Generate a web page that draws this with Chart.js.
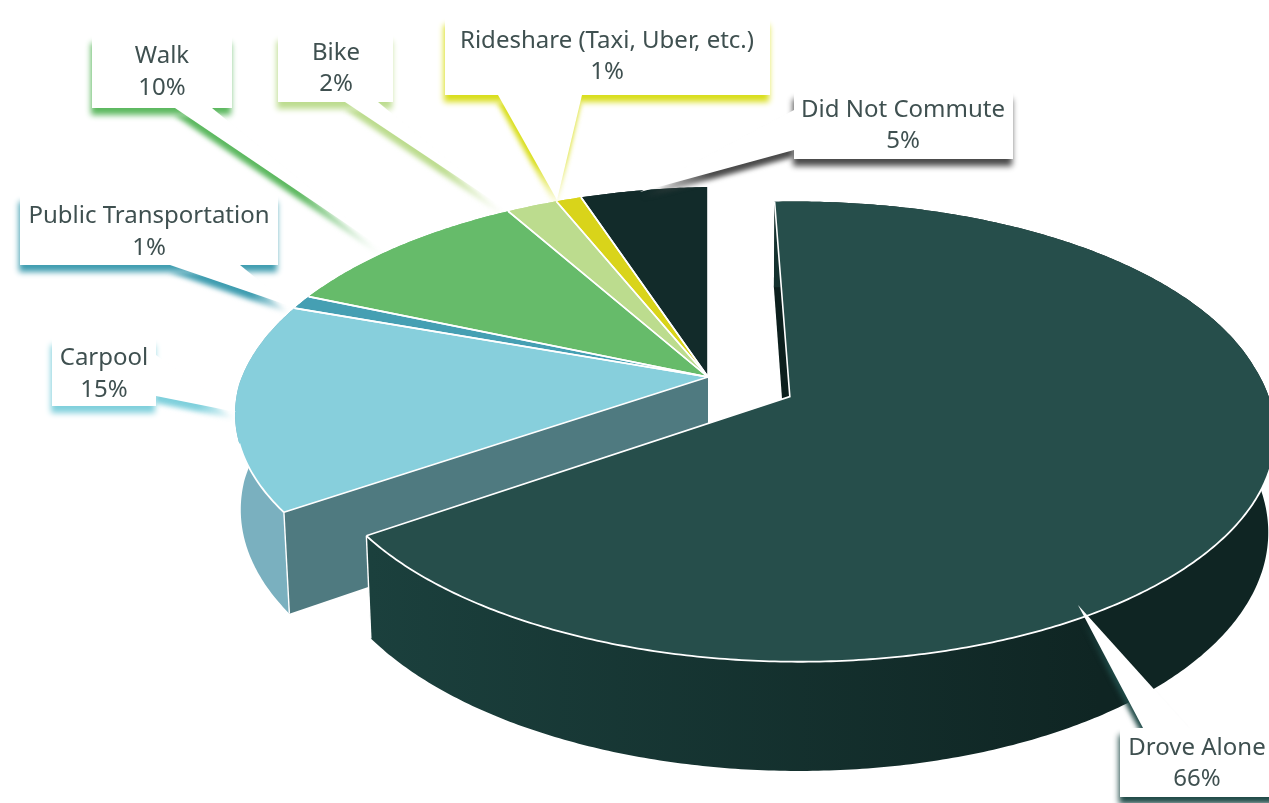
<!DOCTYPE html>
<html>
<head>
<meta charset="utf-8">
<title>Commute Mode</title>
<script src="https://cdn.jsdelivr.net/npm/chart.js@4"></script>
<style>
    html, body { margin: 0; padding: 0; background: #fff; }
    canvas { display: block; }
</style>
</head>
<body>
<canvas id="commuteChart" width="1269" height="803"></canvas>
<script>
const categories = ['Drove Alone', 'Carpool', 'Public Transportation', 'Walk', 'Bike', 'Rideshare (Taxi, Uber, etc.)', 'Did Not Commute'];
const shares = [66, 15, 1, 10, 2, 1, 5];

const topColors = ['#264e4b', '#87cfdc', '#459fb3', '#66bb6a', '#bcdc8e', '#d9d41a', '#122b2a'];
const wallColors = [['#1b403d', '#0f2523'], ['#7ab0bf', '#6fa5b4'], ['#459fb3', '#459fb3'], ['#66bb6a', '#66bb6a'], ['#bcdc8e', '#bcdc8e'], ['#d9d41a', '#d9d41a'], ['#122b2a', '#122b2a']];
const shadowColors = ['#1f4a47', '#7fd0dc', '#3f9db0', '#5cb85f', '#bcdc8e', '#d9de1a', '#4a4a4a'];
const cutWallColor = '#4f7a80';
const textColor = '#3f5050';

// camera used to lay the flat pie on the ground plane
const cam = { x0: 708, y0: 377, f: 469, g: 218.5, k: 0.15, m: 0.012, h: 96, shearX: 10, shearY: -8 };
// the first slice is pulled out of the pie
const pulled = { u: 0.17, v: 0.0948 };

// callout boxes: [x, y, w, h], then the tail as base, base, tip
const callouts = [
    { box: [1120, 728, 160, 69], tail: [[1143, 728], [1189, 728], [1078, 605]], text: [1197, 755, 786] },
    { box: [52, 338, 104, 68], tail: [[156, 355], [156, 396], [236, 412]], text: [104, 365, 397] },
    { box: [20, 195, 258, 70], tail: [[170, 265], [240, 265], [290, 306]], text: [149, 223, 255] },
    { box: [92, 36, 140, 72], tail: [[175, 108], [212, 108], [385, 250]], text: [162, 63, 95] },
    { box: [278, 34, 115, 68], tail: [[345, 102], [378, 102], [510, 212]], text: [336, 60, 91] },
    { box: [445, 18, 325, 77], tail: [[498, 95], [582, 95], [557, 200]], text: [607, 48, 79] },
    { box: [794, 92, 219, 67], tail: [[794, 110], [794, 150], [640, 192]], text: [903, 117, 148] }
];

function project(u, v, depth) {
    const w = 1 - cam.k * v + cam.m * depth;
    const x = cam.f * u + cam.shearX * Math.max(v, 0);
    const y = cam.g * v + cam.shearY * u + cam.h * depth;
    return [cam.x0 + x / w, cam.y0 + y / w];
}

function rimPoint(index, angle, depth) {
    const off = index === 0 ? pulled : { u: 0, v: 0 };
    return project(off.u + Math.cos(angle), off.v + Math.sin(angle), depth);
}

function apexPoint(index, depth) {
    const off = index === 0 ? pulled : { u: 0, v: 0 };
    return project(off.u, off.v, depth);
}

function rimPoints(index, from, to, depth) {
    const steps = Math.max(2, Math.ceil(Math.abs(to - from) / 0.01));
    const pts = [];
    for (let i = 0; i <= steps; i++) {
        pts.push(rimPoint(index, from + (to - from) * i / steps, depth));
    }
    return pts;
}

function tracePoly(ctx, pts) {
    ctx.beginPath();
    pts.forEach((p, i) => i ? ctx.lineTo(p[0], p[1]) : ctx.moveTo(p[0], p[1]));
}

function fillPoly(ctx, pts, fill) {
    tracePoly(ctx, pts);
    ctx.closePath();
    ctx.fillStyle = fill;
    ctx.fill();
}

function strokePoly(ctx, pts, width) {
    tracePoly(ctx, pts);
    ctx.strokeStyle = '#fff';
    ctx.lineWidth = width;
    ctx.stroke();
}

function drawWalls(ctx, index, arc) {
    const top = rimPoints(index, arc.startAngle, arc.endAngle, 0);
    const bottom = rimPoints(index, arc.endAngle, arc.startAngle, 1);
    const grad = ctx.createLinearGradient(370, 0, 1100, 0);
    grad.addColorStop(0, wallColors[index][0]);
    grad.addColorStop(1, wallColors[index][1]);
    fillPoly(ctx, top.concat(bottom), index === 1 ? wallColors[1][0] : grad);
}

function drawCutWall(ctx, index, angle, color) {
    fillPoly(ctx, [apexPoint(index, 0), rimPoint(index, angle, 0), rimPoint(index, angle, 1), apexPoint(index, 1)], color);
}

function drawTop(ctx, index, arc) {
    const pts = [apexPoint(index, 0)].concat(rimPoints(index, arc.startAngle, arc.endAngle, 0));
    fillPoly(ctx, pts, topColors[index]);
}

function drawEdges(ctx, index, arc) {
    strokePoly(ctx, [rimPoint(index, arc.startAngle, 0), apexPoint(index, 0), rimPoint(index, arc.endAngle, 0)], 1.6);
    // white rim only along the part of the edge that has a wall under it
    const apexY = apexPoint(index, 0)[1];
    const rim = rimPoints(index, arc.startAngle, arc.endAngle, 0).filter(p => p[1] - apexY > 65);
    if (rim.length) strokePoly(ctx, rim, 1.8);
}

// vertical white edge where a cut wall meets the round wall
function drawCorner(ctx, index, angle) {
    strokePoly(ctx, [rimPoint(index, angle, 0), rimPoint(index, angle, 1)], 1.4);
}

function drawCallout(ctx, index) {
    const c = callouts[index];
    const [x, y, w, h] = c.box;
    const [a, b, tip] = c.tail;

    // tail shadow fades out on its way to the slice
    ctx.save();
    ctx.filter = 'blur(2.5px)';
    const baseX = (a[0] + b[0]) / 2;
    const baseY = (a[1] + b[1]) / 2;
    const fade = ctx.createLinearGradient(baseX, baseY + 7, tip[0], tip[1] + 7);
    fade.addColorStop(0, shadowColors[index]);
    fade.addColorStop(0.55, shadowColors[index]);
    fade.addColorStop(1, shadowColors[index] + '00');
    fillPoly(ctx, [[a[0] - 1, a[1] + 7], [tip[0] - 1, tip[1] + 7], [b[0] - 1, b[1] + 7]], fade);
    ctx.restore();

    ctx.save();
    ctx.shadowColor = shadowColors[index];
    ctx.shadowBlur = 6;
    ctx.shadowOffsetX = -1;
    ctx.shadowOffsetY = 7;
    ctx.fillStyle = '#fff';
    ctx.fillRect(x, y, w, h);
    ctx.restore();

    fillPoly(ctx, [a, tip, b], '#fff');
    ctx.fillStyle = '#fff';
    ctx.fillRect(x, y, w, h);

    ctx.fillStyle = textColor;
    ctx.font = '24px "Noto Sans"';
    ctx.textAlign = 'center';
    ctx.textBaseline = 'alphabetic';
    ctx.fillText(categories[index], c.text[0], c.text[1]);
    ctx.fillText(shares[index] + '%', c.text[0], c.text[2]);
}

// replaces the flat arcs with the tilted, extruded ones
const tiltedPie = {
    id: 'tiltedPie',
    beforeDatasetDraw(chart) {
        const ctx = chart.ctx;
        const arcs = chart.getDatasetMeta(0).data;

        // the six slices left in place go first, the pulled slice sits in front
        for (let i = 1; i < arcs.length; i++) drawWalls(ctx, i, arcs[i]);
        drawCutWall(ctx, 1, arcs[1].startAngle, cutWallColor);
        drawCorner(ctx, 1, arcs[1].startAngle);
        for (let i = 1; i < arcs.length; i++) drawTop(ctx, i, arcs[i]);
        for (let i = 1; i < arcs.length; i++) drawEdges(ctx, i, arcs[i]);

        drawCutWall(ctx, 0, arcs[0].startAngle, '#0c1f1d');
        drawWalls(ctx, 0, arcs[0]);
        drawCorner(ctx, 0, arcs[0].endAngle);
        drawTop(ctx, 0, arcs[0]);
        drawEdges(ctx, 0, arcs[0]);
        return false;
    },
    afterDatasetsDraw(chart) {
        for (let i = 0; i < categories.length; i++) drawCallout(chart.ctx, i);
    }
};

new Chart(document.getElementById('commuteChart'), {
    type: 'pie',
    data: {
        labels: categories,
        datasets: [{
            data: shares,
            backgroundColor: topColors
        }]
    },
    options: {
        responsive: false,
        animation: false,
        rotation: -0.5,
        circumference: 360.5,
        plugins: {
            legend: { display: false },
            tooltip: { enabled: false }
        }
    },
    plugins: [tiltedPie]
});
</script>
</body>
</html>
